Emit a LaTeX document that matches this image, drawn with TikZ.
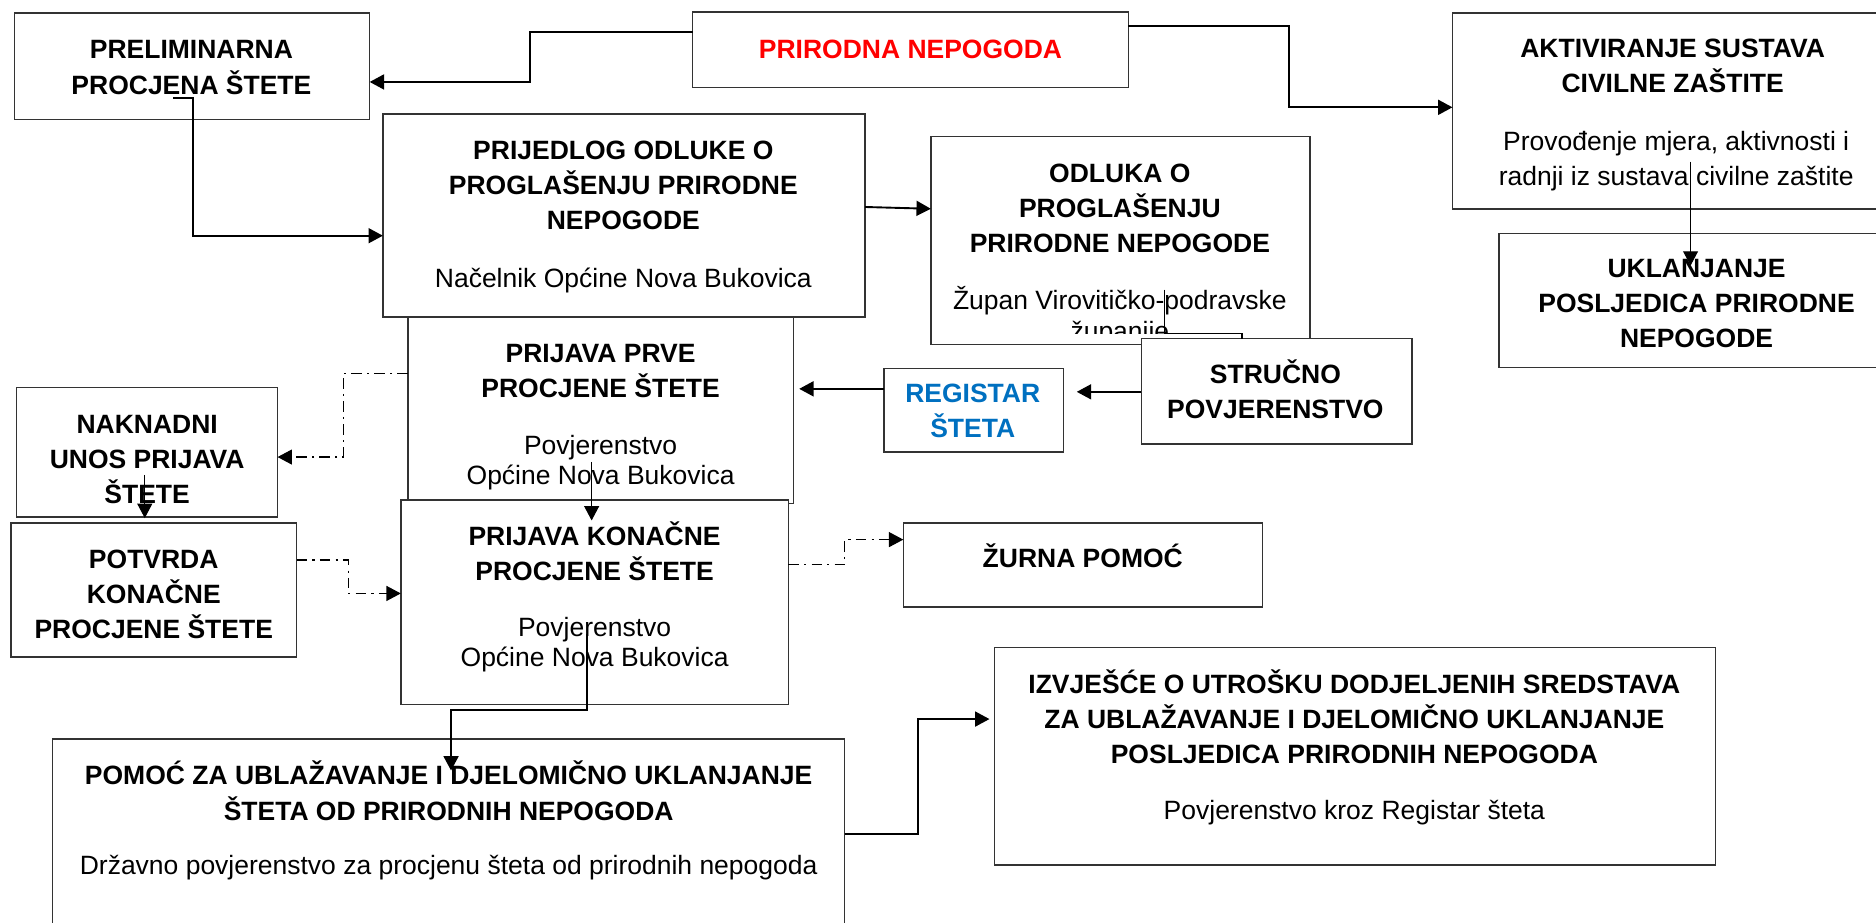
\documentclass[tikz,border=0pt]{standalone}
\usepackage{fontspec}
\setmainfont{Liberation Sans}
\usetikzlibrary{arrows.meta}
\definecolor{pnred}{RGB}{255,0,0}
\definecolor{regblue}{RGB}{0,112,192}
\newcommand\boxat[5]{\node[box, minimum width={(#4-#2)*0.02cm}, minimum height={(#5-#3)*0.02cm}] (#1) at ({(#2+#4)/2},{(#3+#5)/2}) {};}
\begin{document}
\begin{tikzpicture}[x=0.02cm,y=-0.02cm,
  box/.style={draw=black!80, line width=0.7pt, fill=white, inner sep=0pt, outer sep=0pt, rectangle},
  hd/.style={font=\bfseries\fontsize{12.6}{16.7}\selectfont, align=center, anchor=base, inner sep=0pt},
  nm/.style={font=\fontsize{12.6}{16.7}\selectfont, align=center, anchor=base, inner sep=0pt},
  nmt/.style={font=\fontsize{12.6}{14.2}\selectfont, align=center, anchor=base, inner sep=0pt},
  tip/.style={-{Triangle[length=0.24cm,width=0.25cm]}},
  arr/.style={tip, line width=0.9pt},
  arrthin/.style={tip, line width=0.5pt},
  dd/.style={tip, line width=0.6pt, dash pattern=on 5pt off 2.5pt on 1pt off 2.5pt},
]
\clip (0,0) rectangle (1568,771);
\fill[white] (0,0) rectangle (1568,771);

% boxes and texts (multi-line nodes are placed by the baseline of their last line)
\boxat{prelim}{12}{11}{309}{100}
\node[hd] (tprelim) at (160,78.6) {PRELIMINARNA\\PROCJENA ŠTETE};

\boxat{pn}{579}{10}{943}{73}
\node[hd, text=pnred] (tpn) at (761,48.7) {PRIRODNA NEPOGODA};

\boxat{akt}{1214}{11}{1575}{174.5}
\node[hd] (takt) at (1398,77.5) {AKTIVIRANJE SUSTAVA\\CIVILNE ZAŠTITE};
\node[nm] (takt2) at (1401,155) {Provođenje mjera, aktivnosti i\\radnji iz sustava civilne zaštite};

\boxat{ukl}{1253}{195}{1580}{307}
\node[hd] (tukl) at (1418,290.5) {UKLANJANJE\\POSLJEDICA PRIRODNE\\NEPOGODE};

\boxat{prij}{320}{95.3}{723}{265}
\node[hd] (tprij) at (521,191.7) {PRIJEDLOG ODLUKE O\\PROGLAŠENJU PRIRODNE\\NEPOGODE};
\node[nm] (tprij2) at (521,240) {Načelnik Općine Nova Bukovica};

\boxat{odl}{778}{114}{1095}{288}
\node[hd] (todl) at (936,211) {ODLUKA O\\PROGLAŠENJU\\PRIRODNE NEPOGODE};
\begin{scope}
\clip (odl.north west) rectangle (odl.east |- 0,279);
\node[font=\fontsize{12.6}{14.7}\selectfont, align=center, anchor=base, inner sep=0pt] (todl2) at (936,284.5) {Župan Virovitičko-podravske\\županije};
\end{scope}

\boxat{str}{954}{283}{1180}{371}
\node[hd] (tstr) at (1066,349.6) {STRUČNO\\POVJERENSTVO};

\boxat{reg}{739}{307.8}{889}{377.6}
\node[hd, text=regblue] (treg) at (813,365.5) {REGISTAR\\ŠTETA};

\boxat{ppr}{341}{265}{663}{421}
\node[hd] (tppr) at (502,332) {PRIJAVA PRVE\\PROCJENE ŠTETE};
\node[nmt] (tppr2) at (502,404.6) {Povjerenstvo\\Općine Nova Bukovica};

\boxat{nak}{14}{324}{232}{432}
\node[hd] (tnak) at (123,420.7) {NAKNADNI\\UNOS PRIJAVA\\ŠTETE};

\boxat{pot}{9}{437}{248}{549}
\node[hd] (tpot) at (128.5,533.5) {POTVRDA\\KONAČNE\\PROCJENE ŠTETE};

\boxat{pko}{335}{418}{659}{589}
\node[hd] (tpko) at (497,485.5) {PRIJAVA KONAČNE\\PROCJENE ŠTETE};
\node[nmt] (tpko2) at (497,557.3) {Povjerenstvo\\Općine Nova Bukovica};

\boxat{zur}{755}{437}{1055}{507.5}
\node[hd] (tzur) at (905,474) {ŽURNA POMOĆ};

\boxat{pom}{44}{617.8}{706}{790}
\node[hd] (tpom) at (375,685.4) {POMOĆ ZA UBLAŽAVANJE I DJELOMIČNO UKLANJANJE\\ŠTETA OD PRIRODNIH NEPOGODA};
\node[nm] (tpom2) at (375,731) {Državno povjerenstvo za procjenu šteta od prirodnih nepogoda};

\boxat{izv}{831}{541}{1434}{723}
\node[hd] (tizv) at (1132,638) {IZVJEŠĆE O UTROŠKU DODJELJENIH SREDSTAVA\\ZA UBLAŽAVANJE I DJELOMIČNO UKLANJANJE\\POSLJEDICA PRIRODNIH NEPOGODA};
\node[nm] (tizv2) at (1132,685) {Povjerenstvo kroz Registar šteta};

% free connector ends
\coordinate (b0) at (145,82);
\coordinate (e0) at (1413,135);
\coordinate (e1) at (1413,222);
\coordinate (i0) at (121,397);
\coordinate (k0) at (494.5,386);
\coordinate (k1) at (494.5,435);
\coordinate (m0) at (490.5,530);
\coordinate (m1) at (377,644);

% connectors
\draw[arr] (pn.west |- 0,27) -| (443,68.5) -- (prelim.east |- 0,68.5);
\draw[arr] (b0) -| (161,197) -- (prij.west |- 0,197);
\draw[arr] (prij.east |- 0,173) -- (odl.west |- 0,174.5);
\draw[arr] (pn.east |- 0,21.7) -| (1077,89.7) -- (akt.west |- 0,89.7);
\draw[arrthin] (e0) -- (e1);
\draw[line width=0.6pt] (973,242) |- (1038,279) -- (str.north -| 1038,0);
\draw[arr, shorten >=0.22cm] (str.west |- 0,327.5) -- (reg.east |- 0,327.5);
\draw[arr, shorten >=0.1cm] (reg.west |- 0,325) -- (ppr.east |- 0,325);
\draw[dd] (ppr.west |- 0,312) -| (287,382) -- (nak.east |- 0,382);
\draw[arrthin, shorten >=0.08cm] (i0) -- (pot.north -| i0);
\draw[dd] (pot.east |- 0,468) -| (291,496) -- (pko.west |- 0,496);
\draw[arrthin] (k0) -- (k1);
\draw[dd] (pko.east |- 0,472) -| (706,451) -- (zur.west |- 0,451);
\draw[arr] (m0) |- (377,593.4) -- (m1);
\draw[arr, shorten >=0.08cm] (pom.east |- 0,697) -| (767,601) -- (izv.west |- 0,601);
\end{tikzpicture}
\end{document}
